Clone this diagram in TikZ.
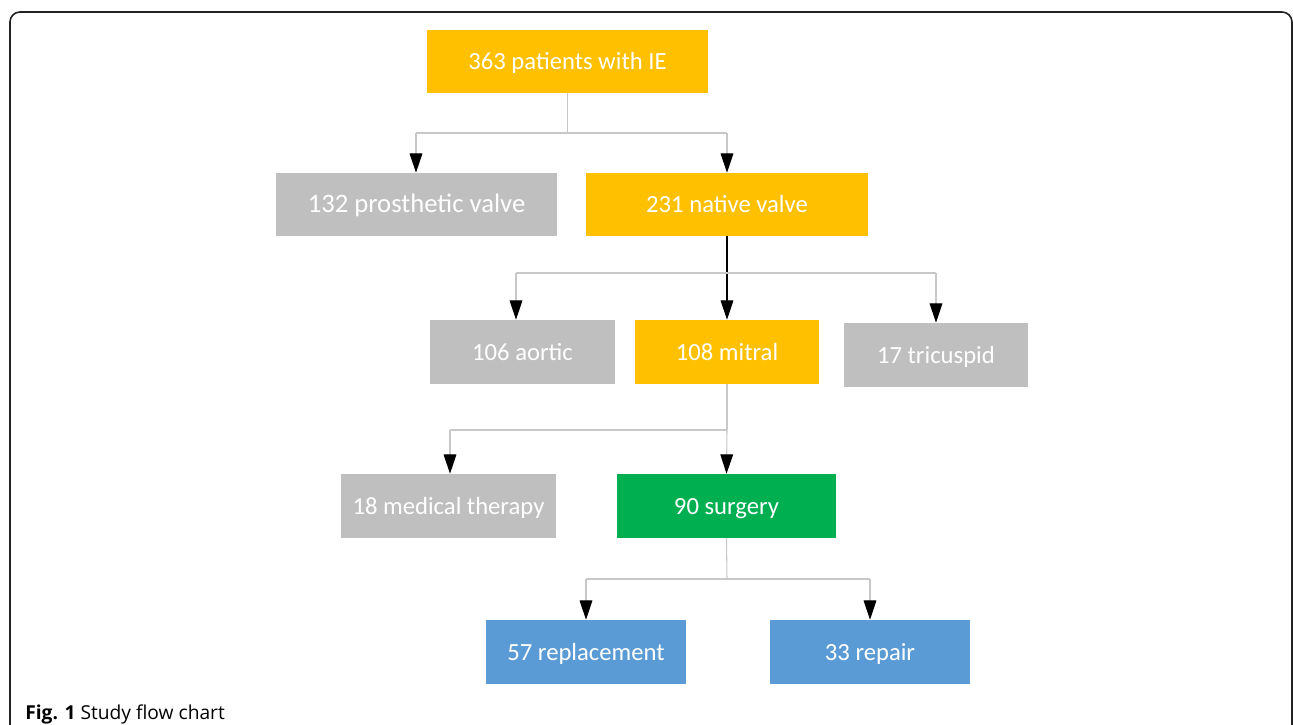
\documentclass[tikz,border=0pt]{standalone}
\usepackage{fontspec}
\setmainfont{Carlito}
\newfontfamily\capfont{Open Sans}
\usetikzlibrary{arrows.meta}
\definecolor{yel}{HTML}{FFC000}
\definecolor{gry}{HTML}{BFBFBF}
\definecolor{grn}{HTML}{00B050}
\definecolor{blu}{HTML}{5B9BD5}
\definecolor{lin}{HTML}{C8C8C8}
\definecolor{frm}{HTML}{222222}
\begin{document}
\begin{tikzpicture}[x=0.75pt,y=-0.75pt,
  box/.style={inner sep=0pt,text=white,text height=14pt,text depth=2pt,font=\fontsize{18.5}{20}\selectfont},
  conn/.style={draw=lin,line width=0.8pt},
  arr/.style={conn,-{Triangle[length=14.5pt,width=9.5pt,color=black]}},
  blk/.style={draw=black,line width=0.8pt,-{Triangle[length=14.5pt,width=9.5pt,color=black]}}]
\useasboundingbox (0,0) rectangle (1293,725);
\fill[white] (0,0) rectangle (1293,725);
\draw[frm,line width=1.2pt,rounded corners=7.5pt] (10,730) -- (10,12) -- (1292,12) -- (1292,730);
% nodes
\node[box,fill=yel,minimum width=210.75pt,minimum height=47.25pt] (top) at (567.5,61.5) {363 patients with IE};
\node[box,fill=gry,minimum width=210.75pt,minimum height=47.25pt,font=\fontsize{20}{22}\selectfont] (pros) at (416.5,204.5) {132 prosthetic valve};
\node[box,fill=yel,minimum width=211.5pt,minimum height=47.25pt] (nat) at (727,204.5) {231 native valve};
\node[box,fill=gry,minimum width=138.75pt,minimum height=48pt] (aor) at (522.5,352) {106 aortic};
\node[box,fill=yel,minimum width=138pt,minimum height=48pt] (mit) at (727,352) {108 mitral};
\node[box,fill=gry,minimum width=138pt,minimum height=48pt] (tri) at (936,355) {17 tricuspid};
\node[box,fill=gry,minimum width=161.25pt,minimum height=48pt] (med) at (448.5,506) {18 medical therapy};
\node[box,fill=grn,minimum width=164.25pt,minimum height=48pt] (sur) at (726.5,506) {90 surgery};
\node[box,fill=blu,minimum width=150pt,minimum height=48pt] (rep) at (586,652) {57 replacement};
\node[box,fill=blu,minimum width=150pt,minimum height=48pt] (rpr) at (870,652) {33 repair};
% branch coordinates
\coordinate (b1) at (567.5,133);
\coordinate (k1a) at (416,133);
\coordinate (k1b) at (727,133);
\coordinate (b2) at (727,273);
\coordinate (k2a) at (516,273);
\coordinate (k2b) at (936,273);
\coordinate (b3) at (727,430);
\coordinate (k3a) at (450,430);
\coordinate (b4) at (727,579);
\coordinate (k4a) at (586,579);
\coordinate (k4b) at (870,579);
% connectors
\draw[conn] (top.south) -- (b1);
\draw[conn] (k1a) -- (k1b);
\draw[arr] (k1a) -- (k1a |- pros.north);
\draw[arr] (k1b) -- (k1b |- nat.north);
\draw[blk] (nat.south) -- (mit.north);
\draw[conn] (k2a) -- (k2b);
\draw[arr] (k2a) -- (k2a |- aor.north);
\draw[arr] (k2b) -- (k2b |- tri.north);
\draw[conn] (mit.south) -- (b3);
\draw[conn] (k3a) -- (b3);
\draw[arr] (k3a) -- (k3a |- med.north);
\draw[arr] (b3) -- (sur.north);
\draw[conn] (sur.south) -- (b4);
\draw[conn] (k4a) -- (k4b);
\draw[arr] (k4a) -- (k4a |- rep.north);
\draw[arr] (k4b) -- (k4b |- rpr.north);
% caption
\node[anchor=base west,inner sep=0pt,font=\capfont\fontsize{14.4}{16}\selectfont] (cap) at (25,719) {\textbf{Fig. 1} Study flow chart};
\end{tikzpicture}
\end{document}
